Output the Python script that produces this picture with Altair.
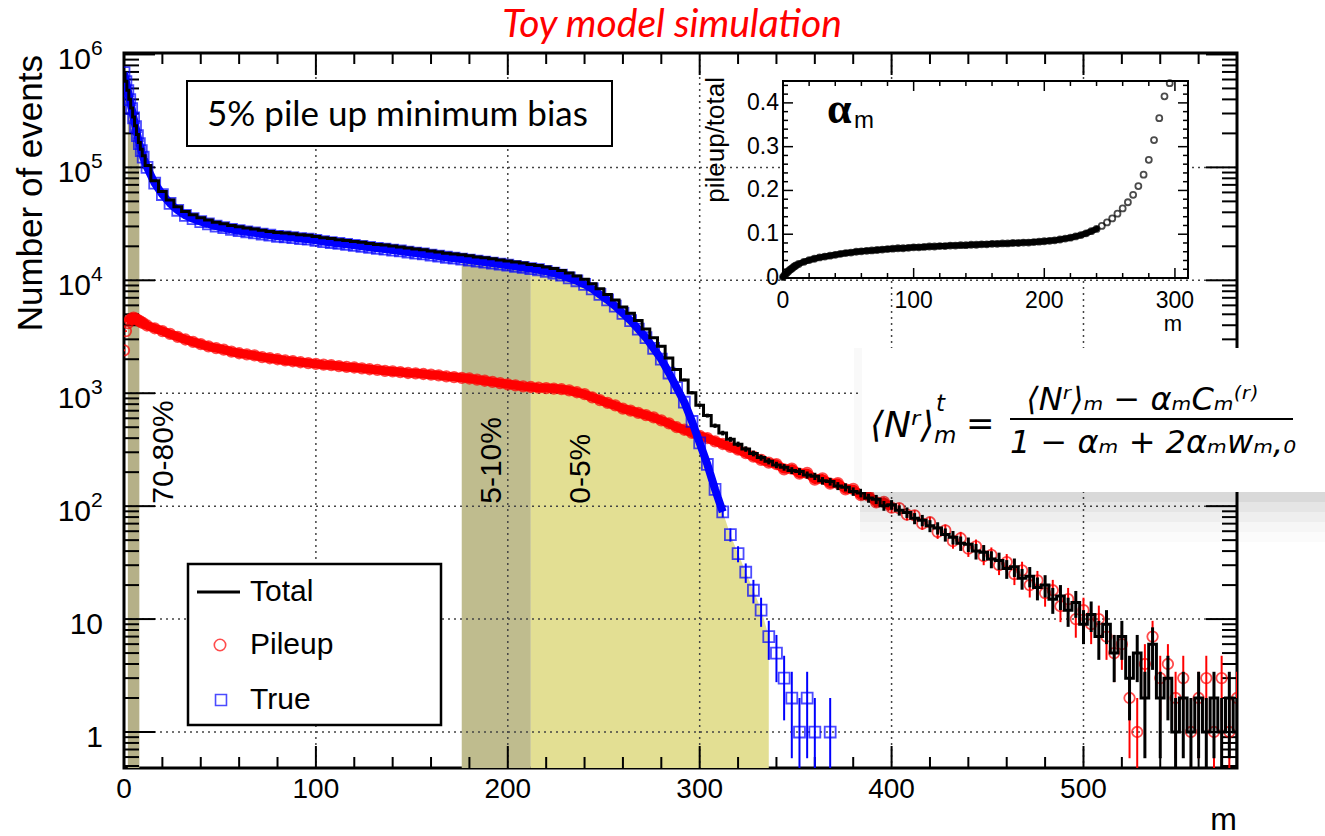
import altair as alt
import pandas as pd

# ------------------------------------------------------------------ data
# multiplicity bins (bin centres): unit bins at low m, then every 4th bin
m_bins = list(range(0, 11)) + list(range(12, 581, 4))

# "True" events per bin, m = 0 ... 368
true_counts = [
    690000, 575000, 479000, 398000, 331000, 275000, 229000, 191000, 162000, 141000, 123000,
    100000, 72400, 57500, 47900, 41700, 37600, 35100, 33100, 31600, 30200,
    29200, 28200, 27500, 26900, 26300, 25700, 25100, 24500, 24300, 23900,
    23400, 23100, 22600, 22000, 21600, 21200, 20800, 20400, 20000, 19600,
    19200, 18900, 18500, 18200, 17800, 17400, 17100, 16700, 16400, 16000,
    15700, 15400, 15100, 14800, 14500, 14200, 13900, 13600, 13300, 13000,
    12700, 12400, 12000, 11600, 11100, 10500, 9900, 9200, 8400, 7500,
    6700, 5900, 5100, 4400, 3700, 3100, 2500, 2000, 1510, 1120,
    832, 562, 363, 234, 141, 89, 56, 38, 26, 18,
    12, 7, 5, 3, 2, 1, 2, 1, None, 1,
]

# pile-up events per bin, m = 0 ... 580
pileup_counts = [
    2400, 3550, 4170, 4470, 4570, 4680, 4570, 4470, 4370, 4270, 4170,
    3980, 3760, 3550, 3350, 3160, 2990, 2850, 2720, 2600, 2510,
    2430, 2340, 2260, 2210, 2160, 2090, 2040, 2000, 1950, 1920,
    1880, 1850, 1820, 1790, 1770, 1740, 1710, 1690, 1660, 1630,
    1610, 1580, 1560, 1540, 1510, 1500, 1480, 1460, 1440, 1410,
    1390, 1370, 1350, 1320, 1290, 1260, 1230, 1200, 1175, 1150,
    1135, 1120, 1110, 1100, 1085, 1060, 1020, 980, 920, 870,
    820, 780, 730, 700, 670, 640, 610, 575, 540, 500,
    475, 445, 420, 400, 375, 355, 335, 316, 295, 275,
    257, 243, 236, 212, 215, 194, 197, 172, 176, 158,
    160, 141, 142, 125, 124, 108, 109, 97, 96, 84,
    83, 70, 72, 59, 61, 49, 52, 42, 44, 36,
    37, 30, 32, 25, 27, 20, 22, 17, 18, 13,
    15, 10, 12, 9, 10, 7, 5, 6, 2, 1,
    4, 7, 3, 4, 2, 3, 1, 2, 3, 1,
    3, 1, 2,
]

# total events per bin, m = 0 ... 580
total_counts = [
    692000, 579000, 483000, 402000, 336000, 280000, 234000, 195000, 166000, 145000, 127000,
    104000, 76200, 61000, 51300, 44900, 40600, 38000, 35800, 34200, 32700,
    31600, 30500, 29800, 29100, 28500, 27800, 27100, 26500, 26300, 25800,
    25300, 25000, 24400, 23800, 23400, 22900, 22500, 22100, 21700, 21200,
    20800, 20500, 20100, 19700, 19300, 18900, 18600, 18200, 17800, 17400,
    17100, 16800, 16500, 16100, 15800, 15500, 15100, 14800, 14500, 14200,
    13800, 13500, 13100, 12700, 12200, 11600, 10900, 10200, 9300, 8400,
    7500, 6700, 5800, 5100, 4400, 3700, 3100, 2600, 2050, 1620,
    1310, 1010, 783, 634, 516, 444, 391, 354, 321, 293,
    269, 250, 232, 221, 207, 203, 189, 184, 168, 165,
    151, 147, 135, 131, 118, 115, 101, 103, 92, 88,
    78, 75, 67, 64, 56, 53, 47, 46, 40, 39,
    34, 33, 28, 29, 23, 24, 19, 20, 15, 16,
    12, 14, 9, 11, 7, 9, 5, 7, 3, 5,
    2, 6, 2, 3, 1, 2, 1, 2, 1, 2,
    1, 2, 1,
]

# pile-up fraction alpha_m = pileup/total, m = 0 ... 296
alpha_m = [
    0.002, 0.006, 0.009, 0.012, 0.015, 0.018, 0.020, 0.022, 0.025, 0.027, 0.029,
    0.032, 0.037, 0.041, 0.044, 0.047, 0.049, 0.051, 0.053, 0.055, 0.057,
    0.058, 0.060, 0.061, 0.062, 0.063, 0.064, 0.065, 0.066, 0.067, 0.068,
    0.068, 0.069, 0.070, 0.070, 0.071, 0.072, 0.072, 0.073, 0.073, 0.074,
    0.074, 0.075, 0.075, 0.076, 0.076, 0.077, 0.077, 0.078, 0.078, 0.079,
    0.079, 0.080, 0.080, 0.081, 0.081, 0.082, 0.083, 0.084, 0.085, 0.086,
    0.088, 0.090, 0.092, 0.095, 0.098, 0.102, 0.107, 0.112, 0.119, 0.127,
    0.136, 0.147, 0.159, 0.173, 0.190, 0.210, 0.236, 0.270, 0.315, 0.365,
    0.415, 0.445,
]

# centrality classes shaded under the "True" distribution
band_names = ["70-80%", "5-10%", "0-5%"]
band_lo = [2, 176, 212]
band_hi = [8, 212, 336]
band_label_m = [21, 192, 238]
band_label_n = [105, 105, 105]

# axis ticks and tick labels
x_major = [0, 100, 200, 300, 400, 500]
x_minor = [v for v in range(20, 581, 20) if v % 100]
y_decades = [1, 10, 100, 1000, 10000, 100000, 1000000]
y_bases = ["1", "10", "10", "10", "10", "10", "10"]
y_exps = ["", "", "2", "3", "4", "5", "6"]
y_minor = [k * 10.0 ** d for d in range(-1, 6) for k in range(2, 10)
           if 0.48 <= k * 10.0 ** d <= 1.03e6]

inset_x_major = [0, 100, 200, 300]
inset_x_minor = [v for v in range(20, 310, 20) if v % 100]
inset_y_major = [0.0, 0.1, 0.2, 0.3, 0.4]
inset_y_labels = ["0", "0.1", "0.2", "0.3", "0.4"]
inset_y_minor = [round(0.02 * k, 2) for k in range(1, 23) if k % 5]

# ------------------------------------------------------------------ styling
W, H = 1113, 715
Y_FLOOR = 0.48
FONT = "Liberation Sans"
RED, BLUE = "#ff0000", "#0000ff"
band_colors = ["#b5b088", "#bfbc8e", "#e3df93"]
band_interp = ["step", "step", "monotone"]

xs = alt.Scale(domain=[0, 580], nice=False, zero=False)
ys = alt.Scale(type="log", domain=[Y_FLOOR, 1.03e6], nice=False)


def xq(field="m"):
    return alt.X(f"{field}:Q", scale=xs, axis=None)


def yq(field="n"):
    return alt.Y(f"{field}:Q", scale=ys, axis=None)


single = pd.DataFrame({"k": [0]})


def rect(x0, x1, y0, y1, **style):
    return alt.Chart(single).mark_rect(**style).encode(
        x=alt.value(x0), x2=alt.value(x1), y=alt.value(y0), y2=alt.value(y1))


def label(txt, x, y, **style):
    return alt.Chart(single).mark_text(text=txt, **style).encode(
        x=alt.value(x), y=alt.value(y))


blue_df = pd.DataFrame({"m": m_bins[:len(true_counts)], "n": true_counts}).dropna()
red_df = pd.DataFrame({"m": m_bins, "n": pileup_counts})
black_df = pd.DataFrame({"m": m_bins, "n": total_counts})
alpha_df = pd.DataFrame({"m": m_bins[:len(alpha_m)], "a": alpha_m})

layers = []

# shaded centrality bands, filled from the bottom of the frame up to the "True" curve
for name, lo, hi, col, interp in zip(band_names, band_lo, band_hi, band_colors, band_interp):
    sub = blue_df[(blue_df.m >= lo) & (blue_df.m <= hi)].reset_index(drop=True)
    layers.append(
        alt.Chart(sub).transform_calculate(floor=str(Y_FLOOR)).mark_area(
            color=col, interpolate=interp, opacity=1).encode(
            x=xq(), y=yq(), y2=alt.Y2("floor:Q")))

band_df = pd.DataFrame({"name": band_names, "m": band_label_m, "n": band_label_n})
layers.append(
    alt.Chart(band_df).mark_text(angle=270, align="left", baseline="middle",
                                 font=FONT, fontSize=30, color="black").encode(
        x=xq(), y=yq(), text="name:N"))

# dotted grid
grid_style = dict(color="#444444", strokeWidth=1.5, strokeDash=[2, 4])
layers.append(alt.Chart(pd.DataFrame({"m": x_major[1:]})).mark_rule(**grid_style).encode(
    x=xq(), y=alt.value(0), y2=alt.value(H)))
layers.append(alt.Chart(pd.DataFrame({"n": y_decades[:-1]})).mark_rule(**grid_style).encode(
    y=yq(), x=alt.value(0), x2=alt.value(W)))

# inward ticks on all four sides
tick_style = dict(color="black", strokeWidth=2)
for vals, ln in ((x_major, 22), (x_minor, 11)):
    base = alt.Chart(pd.DataFrame({"m": vals})).mark_rule(**tick_style)
    layers.append(base.encode(x=xq(), y=alt.value(H), y2=alt.value(H - ln)))
    layers.append(base.encode(x=xq(), y=alt.value(0), y2=alt.value(ln)))
for vals, ln in ((y_decades, 31), (y_minor, 15)):
    base = alt.Chart(pd.DataFrame({"n": vals})).mark_rule(**tick_style)
    layers.append(base.encode(y=yq(), x=alt.value(0), x2=alt.value(ln)))
    layers.append(base.encode(y=yq(), x=alt.value(W), x2=alt.value(W - ln)))

# data: overlapping marker bands, error bars sqrt(N), markers, total histogram
err_calc = dict(lo="max(datum.n - sqrt(datum.n), 0.05)", hi="datum.n + sqrt(datum.n)")


def errbars(df, color, width):
    return alt.Chart(df).transform_calculate(**err_calc).mark_rule(
        color=color, strokeWidth=width, clip=True).encode(
        x=xq(), y=yq("lo"), y2=alt.Y2("hi"))


layers.append(alt.Chart(red_df[(red_df.m >= 2) & (red_df.m <= 400)]).mark_line(
    color=RED, strokeWidth=9, strokeCap="butt", strokeJoin="round", clip=True).encode(
    x=xq(), y=yq()))
layers.append(errbars(red_df, RED, 2))
layers.append(alt.Chart(red_df).mark_point(shape="circle", filled=False, size=110,
                                           strokeWidth=1.8, color=RED, clip=True).encode(
    x=xq(), y=yq()))
layers.append(alt.Chart(blue_df[blue_df.m <= 312]).mark_line(
    color=BLUE, strokeWidth=8, strokeCap="butt", strokeJoin="round", clip=True).encode(
    x=xq(), y=yq()))
layers.append(errbars(blue_df, BLUE, 2))
layers.append(alt.Chart(blue_df).mark_point(shape="square", filled=False, size=120,
                                            strokeWidth=1.8, color=BLUE, clip=True).encode(
    x=xq(), y=yq()))
layers.append(errbars(black_df, "black", 3))
layers.append(alt.Chart(black_df).mark_line(interpolate="step", color="black",
                                            strokeWidth=3, clip=True).encode(
    x=xq(), y=yq()))

# axis labels and titles
lab_style = dict(font=FONT, color="black", baseline="alphabetic")
layers.append(alt.Chart(pd.DataFrame({"m": x_major})).mark_text(
    align="center", fontSize=28, **lab_style).encode(
    x=xq(), y=alt.value(H + 30), text=alt.Text("m:Q", format="d")))
layers.append(label("m", W, H + 62, align="right", fontSize=32, **lab_style))
layers.append(label("Number of events", -82, 2, angle=270, align="right",
                    fontSize=35, **lab_style))

ylab = pd.DataFrame({"n": y_decades, "base": y_bases, "exp": y_exps})
layers.append(alt.Chart(ylab).transform_filter("datum.exp == ''").mark_text(
    align="right", dy=15, fontSize=30, **lab_style).encode(
    y=yq(), x=alt.value(-21), text="base:N"))
layers.append(alt.Chart(ylab).transform_filter("datum.exp != ''").mark_text(
    align="right", dy=15, fontSize=30, **lab_style).encode(
    y=yq(), x=alt.value(-33), text="base:N"))
layers.append(alt.Chart(ylab).transform_filter("datum.exp != ''").mark_text(
    align="left", dy=1, fontSize=21, **lab_style).encode(
    y=yq(), x=alt.value(-33), text="exp:N"))

# chart title
layers.append(label("Toy model simulation", 548, -16, font="Lato", fontSize=39,
                    fontStyle="italic", color=RED, align="center", baseline="alphabetic"))

# "5% pile up minimum bias" box
layers.append(rect(63, 488, 28, 93, fill="white", stroke="black", strokeWidth=2))
layers.append(label("5% pile up minimum bias", 83, 62, font="Lato", fontSize=35,
                    align="left", baseline="middle", color="black"))

# legend
layers.append(rect(64, 317, 511, 672, fill="white", stroke="black", strokeWidth=2.5))
layers.append(alt.Chart(single).mark_rule(color="black", strokeWidth=3).encode(
    x=alt.value(73), x2=alt.value(116), y=alt.value(539)))
layers.append(alt.Chart(single).mark_point(shape="circle", filled=False, size=130,
                                           strokeWidth=1.6, color=RED).encode(
    x=alt.value(96), y=alt.value(592)))
layers.append(alt.Chart(single).mark_point(shape="square", filled=False, size=120,
                                           strokeWidth=1.6, color=BLUE).encode(
    x=alt.value(97), y=alt.value(647)))
for txt, yy in (("Total", 539), ("Pileup", 592), ("True", 647)):
    layers.append(label(txt, 126, yy, font=FONT, fontSize=30, align="left",
                        baseline="middle", color="black"))

# formula panel with soft shadow
for y0, y1, op in ((439, 449, 0.15), (449, 459, 0.10), (459, 469, 0.065),
                   (469, 479, 0.035), (479, 489, 0.015)):
    layers.append(rect(736, 1201, y0, y1, fill="black", opacity=op))
layers.append(rect(730, 738, 295, 439, fill="black", opacity=0.025))
layers.append(rect(738, 1201, 295, 439, fill="white"))
fstyle = dict(font="DejaVu Sans", fontStyle="italic", color="black", baseline="alphabetic")
layers.append(label("\u27e8N\u02b3\u27e9", 746, 384, fontSize=36, align="left", **fstyle))
layers.append(label("t", 812, 358, fontSize=23, align="left", **fstyle))
layers.append(label("m", 810, 390, fontSize=23, align="left", **fstyle))
layers.append(label("=", 842, 382, fontSize=34, align="left",
                    font="DejaVu Sans", color="black", baseline="alphabetic"))
layers.append(label("\u27e8N\u02b3\u27e9\u2098 \u2212 \u03b1\u2098C\u2098\u207d\u02b3\u207e",
                    1018, 357, fontSize=32, align="center", **fstyle))
layers.append(alt.Chart(single).mark_rule(color="black", strokeWidth=2).encode(
    x=alt.value(886), x2=alt.value(1169), y=alt.value(366)))
layers.append(label("1 \u2212 \u03b1\u2098 + 2\u03b1\u2098w\u2098,\u2080",
                    1029, 400, fontSize=32, align="center", **fstyle))

main = alt.layer(*layers)

# ------------------------------------------------------------------ inset: alpha_m
IX0, IX1, IY0, IY1 = 659, 1064, 28, 225
ixs = alt.Scale(domain=[0, 310], range=[IX0, IX1], nice=False, zero=False)
iys = alt.Scale(domain=[0, 0.45], range=[IY1, IY0], nice=False, zero=False)


def ixq(field="m"):
    return alt.X(f"{field}:Q", scale=ixs, axis=None)


def iyq(field="a"):
    return alt.Y(f"{field}:Q", scale=iys, axis=None)


inset_layers = []
frame_df = pd.DataFrame({"x0": [0], "x1": [310], "y0": [0.0], "y1": [0.45]})
inset_layers.append(alt.Chart(frame_df).mark_rect(fill="white", stroke="black",
                                                  strokeWidth=2).encode(
    x=ixq("x0"), x2=alt.X2("x1"), y=iyq("y0"), y2=alt.Y2("y1")))
itick = dict(color="black", strokeWidth=1.5)
for vals, ln in ((inset_x_major, 10), (inset_x_minor, 5)):
    base = alt.Chart(pd.DataFrame({"m": vals})).mark_rule(**itick)
    inset_layers.append(base.encode(x=ixq(), y=alt.value(IY1), y2=alt.value(IY1 - ln)))
    inset_layers.append(base.encode(x=ixq(), y=alt.value(IY0), y2=alt.value(IY0 + ln)))
for vals, ln in ((inset_y_major, 10), (inset_y_minor, 5)):
    base = alt.Chart(pd.DataFrame({"a": vals})).mark_rule(**itick)
    inset_layers.append(base.encode(y=iyq(), x=alt.value(IX0), x2=alt.value(IX0 + ln)))
    inset_layers.append(base.encode(y=iyq(), x=alt.value(IX1), x2=alt.value(IX1 - ln)))
inset_layers.append(alt.Chart(alpha_df[alpha_df.m <= 240]).mark_line(
    color="black", strokeWidth=6, strokeCap="round").encode(x=ixq(), y=iyq()))
inset_layers.append(alt.Chart(alpha_df).mark_point(shape="circle", filled=False, size=36,
                                                   strokeWidth=1.8, color="black").encode(
    x=ixq(), y=iyq()))
inset_layers.append(alt.Chart(pd.DataFrame({"m": inset_x_major})).mark_text(
    font=FONT, fontSize=23, color="black", baseline="alphabetic", align="center").encode(
    x=ixq(), y=alt.value(IY1 + 30), text=alt.Text("m:Q", format="d")))
inset_layers.append(alt.Chart(pd.DataFrame({"a": inset_y_major, "t": inset_y_labels})).mark_text(
    font=FONT, fontSize=23, color="black", baseline="middle", align="right").encode(
    y=iyq(), x=alt.value(IX0 - 4), text="t:N"))
inset_layers.append(label("m", IX1 - 6, IY1 + 53, font=FONT, fontSize=22, align="right",
                          baseline="alphabetic", color="black"))
inset_layers.append(label("pileup/total", 592, 24, font=FONT, fontSize=26, angle=270,
                          align="right", baseline="middle", color="black"))
inset_layers.append(label("\u03b1", 703, 70, font="Liberation Serif", fontSize=44,
                          fontWeight="bold", align="left", baseline="alphabetic",
                          color="black"))
inset_layers.append(label("m", 730, 75, font=FONT, fontSize=24, align="left",
                          baseline="alphabetic", color="black"))

inset = alt.layer(*inset_layers)

chart = alt.layer(main, inset).resolve_scale(
    x="independent", y="independent"
).properties(
    width=W, height=H,
    padding={"left": 124, "top": 53, "right": 88, "bottom": 68},
    autosize=alt.AutoSizeParams(type="none"),
    background="white",
).configure_view(stroke="black", strokeWidth=3)

chart.save("out.html", embed_options={"renderer": "svg", "actions": False})
